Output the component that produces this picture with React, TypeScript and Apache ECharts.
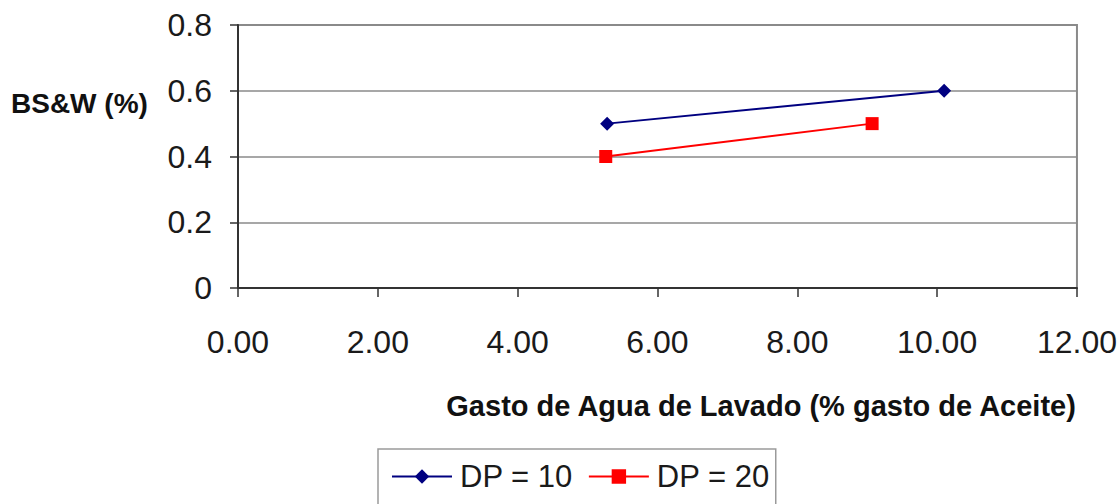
import React, { useEffect, useRef } from "react";
import * as echarts from "echarts";

const seriesNames = ["DP = 10", "DP = 20"];
const dp10: [number, number][] = [
  [5.28, 0.5],
  [10.1, 0.6],
];
const dp20: [number, number][] = [
  [5.26, 0.4],
  [9.07, 0.5],
];
const yTitle = "BS&W (%)";
const xTitle = "Gasto de Agua de Lavado (% gasto de Aceite)";

const NARROW = "'Liberation Sans Narrow', 'Arial Narrow', 'Liberation Sans', Arial, sans-serif";
const BOLD = "'Liberation Sans', Arial, sans-serif";

export default function App() {
  const ref = useRef<HTMLDivElement>(null);
  useEffect(() => {
    if (!ref.current) return;
    const chart = echarts.init(ref.current, undefined, { renderer: "svg" });
    chart.setOption({
      animation: false,
      backgroundColor: "#ffffff",
      grid: {
        left: 238,
        top: 25,
        right: 43,
        bottom: 216,
        show: true,
        borderColor: "#8a8a8a",
        borderWidth: 2,
      },
      xAxis: {
        type: "value",
        min: 0,
        max: 12,
        interval: 2,
        axisLine: { show: true, onZero: false, lineStyle: { color: "#333333", width: 2 } },
        axisTick: { show: true, inside: false, length: 9, lineStyle: { color: "#333333", width: 1.5 } },
        splitLine: { show: false },
        axisLabel: {
          margin: 38,
          fontFamily: NARROW,
          fontSize: 32,
          color: "#1a1a1a",
          formatter: (v: number) => v.toFixed(2),
        },
      },
      yAxis: {
        type: "value",
        min: 0,
        max: 0.8,
        interval: 0.2,
        axisLine: { show: true, lineStyle: { color: "#333333", width: 2 } },
        axisTick: { show: true, inside: false, length: 8, lineStyle: { color: "#333333", width: 1.5 } },
        splitLine: { show: true, lineStyle: { color: "#8a8a8a", width: 1.5 } },
        axisLabel: {
          margin: 26,
          fontFamily: NARROW,
          fontSize: 32,
          color: "#1a1a1a",
        },
      },
      legend: {
        data: seriesNames,
        left: 378,
        top: 449,
        orient: "horizontal",
        padding: [12, 6, 40, 13],
        itemGap: 15,
        itemWidth: 60,
        itemHeight: 18,
        borderColor: "#9a9a9a",
        borderWidth: 1.5,
        textStyle: {
          fontFamily: NARROW,
          fontSize: 31,
          color: "#1a1a1a",
          padding: [0, 0, 0, 3],
        },
      },
      series: [
        {
          name: seriesNames[0],
          type: "line",
          data: dp10,
          symbol: "diamond",
          symbolSize: 14,
          color: "#000080",
          lineStyle: { color: "#000080", width: 2 },
          itemStyle: { color: "#000080" },
        },
        {
          name: seriesNames[1],
          type: "line",
          data: dp20,
          symbol: "rect",
          symbolSize: 13,
          color: "#ff0000",
          lineStyle: { color: "#ff0000", width: 2 },
          itemStyle: { color: "#ff0000" },
        },
      ],
      graphic: [
        {
          type: "text",
          left: 11,
          top: 89,
          style: {
            text: yTitle,
            font: `bold 28px ${BOLD}`,
            fill: "#111111",
          },
        },
        {
          type: "text",
          right: 42,
          top: 391,
          style: {
            text: xTitle,
            font: `bold 29px ${BOLD}`,
            fill: "#111111",
          },
        },
      ],
    });
    return () => chart.dispose();
  }, []);
  return (
    <div
      ref={ref}
      style={{ position: "absolute", left: 0, top: 0, width: 1120, height: 504 }}
    />
  );
}
